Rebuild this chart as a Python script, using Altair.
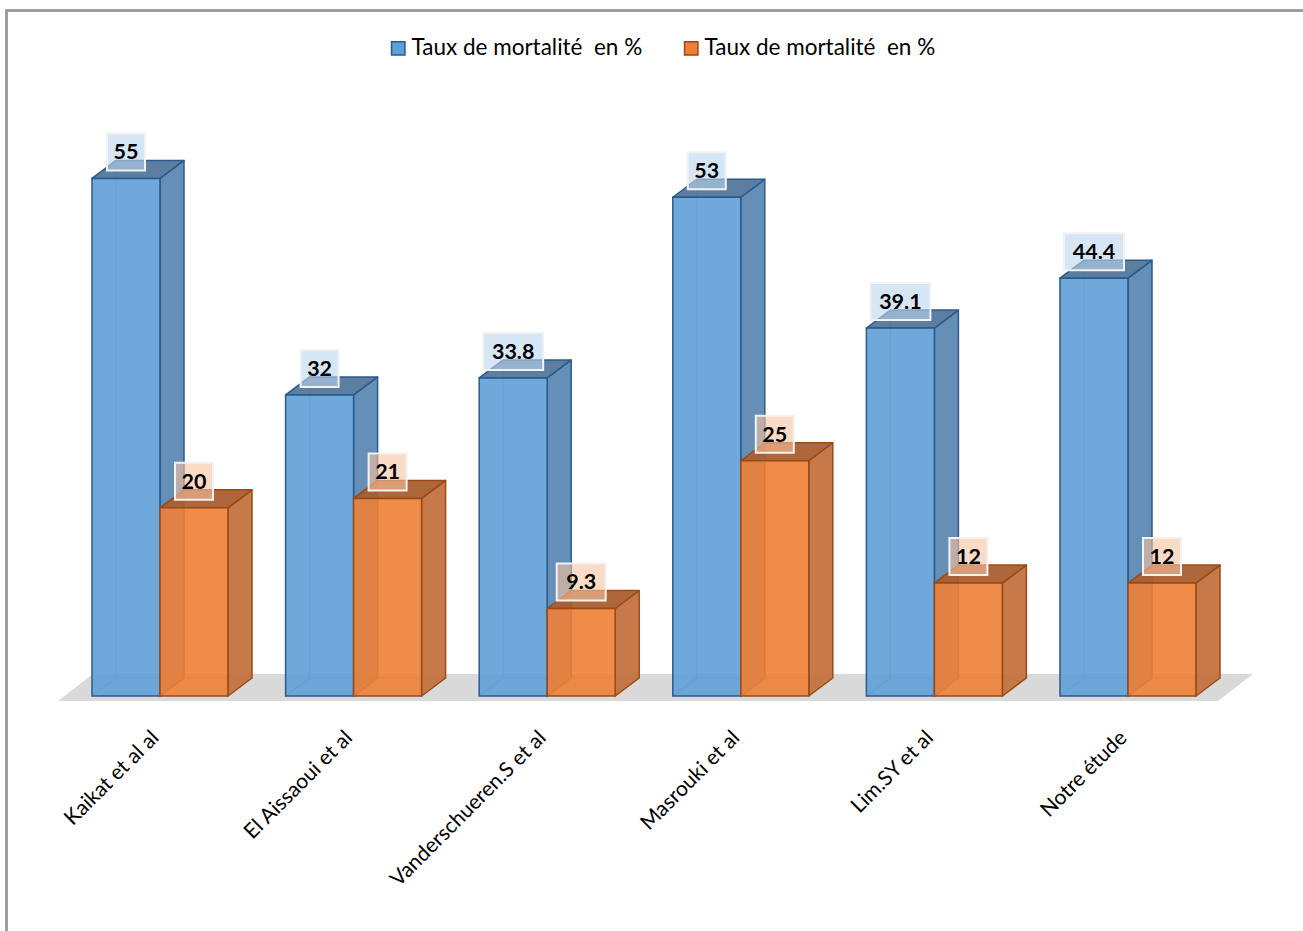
import altair as alt
import pandas as pd

# ---------------- data ----------------
categories = ["Kaikat et al al", "El Aissaoui et al", "Vanderschueren.S et al",
              "Masrouki et al", "Lim.SY et al", "Notre étude"]
serie_a = [55, 32, 33.8, 53, 39.1, 44.4]
serie_b = [20, 21, 9.3, 25, 12, 12]
labels_a = ["55", "32", "33.8", "53", "39.1", "44.4"]
labels_b = ["20", "21", "9.3", "25", "12", "12"]
series_ids = ["A", "B"]
legend_label = "Taux de mortalité\u00a0 en %"

# ---------------- geometry (axis units) ----------------
PX_X = 193.6          # pixels per category step
PX_Y = 9.41           # pixels per value unit
X0_PX = 92.0          # pixel of first bar left edge
Y0_PX = 696.0         # pixel of value 0
WIDTH, HEIGHT = 1303, 931
W = 68 / PX_X         # bar width
D = 24 / PX_X         # depth dx
E = 18 / PX_Y         # depth dy
XDOM = [-X0_PX / PX_X, (WIDTH - X0_PX) / PX_X]
YDOM = [(Y0_PX - HEIGHT) / PX_Y, Y0_PX / PX_Y]
xs = alt.Scale(domain=XDOM, nice=False, zero=False)
ys = alt.Scale(domain=YDOM, nice=False, zero=False)

front_col = {"A": "#5f9fd7", "B": "#ee7f36"}
side_col = {"A": "#5e89b3", "B": "#c4733f"}
top_col = {"A": "#52779c", "B": "#a95f30"}
edge_col = {"A": "#2c5a8c", "B": "#9a4a16"}
box_col = {"A": "#bdd5ee", "B": "#f7c3a0"}

fronts, sides, tops, edges, vlabels = [], [], [], [], []
for s_i, (sid, vals, labs) in enumerate(zip(series_ids, [serie_a, serie_b], [labels_a, labels_b])):
    for i, (v, lab) in enumerate(zip(vals, labs)):
        u0 = i + s_i * W
        u1 = u0 + W
        pid = f"{sid}{i}"
        fronts.append(dict(series=sid, x=u0, x2=u1, y=0, y2=v))
        sides += [dict(series=sid, pid=pid, x=u1, lo=0, hi=v),
                  dict(series=sid, pid=pid, x=u1 + D, lo=E, hi=v + E)]
        tops += [dict(series=sid, pid=pid, x=u0, lo=v, hi=v),
                 dict(series=sid, pid=pid, x=u0 + D, lo=v, hi=v + E),
                 dict(series=sid, pid=pid, x=u1, lo=v, hi=v + E),
                 dict(series=sid, pid=pid, x=u1 + D, lo=v + E, hi=v + E)]
        edges += [dict(series=sid, x=u0, y=0, x2=u0 + D, y2=E),
                  dict(series=sid, x=u0 + D, y=E, x2=u0 + D, y2=v + E),
                  dict(series=sid, x=u0 + D, y=E, x2=u1 + D, y2=E)]
        uc = (u0 + u1) / 2
        half = (11 * len(lab) + 16) / 2 / PX_X
        vlabels.append(dict(series=sid, label=lab, x=uc, y=v + 2.66,
                            bx=uc - half, bx2=uc + half, by=v + 0.85, by2=v + 4.78))

fronts = pd.DataFrame(fronts)
sides = pd.DataFrame(sides)
tops = pd.DataFrame(tops)
edges = pd.DataFrame(edges)
vlabels = pd.DataFrame(vlabels)

n = len(categories)
floor = pd.DataFrame([
    dict(x=-34 / PX_X, lo=-0.53, hi=-0.53),
    dict(x=1 / PX_X, lo=-0.53, hi=2.34),
    dict(x=n - 1 + 2 * W + 22 / PX_X, lo=-0.53, hi=2.34),
    dict(x=n - 1 + 2 * W + 57 / PX_X, lo=2.34, hi=2.34),
])
cats = pd.DataFrame(dict(cat=categories, x=[i + W - 12 / PX_X for i in range(n)], y=[-3.3] * n))

# ---------------- layers ----------------
floor_layer = alt.Chart(floor).mark_area(color="#d9d9d9").encode(
    x=alt.X("x:Q", scale=xs, axis=None),
    y=alt.Y("lo:Q", scale=ys, axis=None),
    y2="hi:Q",
)

border_left = alt.Chart(floor).mark_rule(color="#999999", strokeWidth=2).encode(
    x=alt.value(6.5), y=alt.value(10), y2=alt.value(HEIGHT))
border_top = alt.Chart(floor).mark_rule(color="#999999", strokeWidth=2).encode(
    y=alt.value(10.5), x=alt.value(5.5), x2=alt.value(WIDTH))

legend = alt.Legend(
    title=None, orient="none", legendX=387, legendY=37, direction="horizontal",
    symbolType="square", symbolSize=180, symbolStrokeWidth=1.5, symbolOpacity=1,
    labelExpr=f"'{legend_label}'", labelFont="Lato", labelFontSize=22.5, labelLimit=0,
    labelColor="#000000", labelOffset=2, columnPadding=37, padding=0,
)

layers = [floor_layer, border_left, border_top]
for sid in series_ids:
    e_df = edges[edges.series == sid]
    s_df = sides[sides.series == sid]
    t_df = tops[tops.series == sid]
    f_df = fronts[fronts.series == sid]
    layers.append(alt.Chart(e_df).mark_rule(color=edge_col[sid], strokeWidth=1.2, opacity=0.45).encode(
        x=alt.X("x:Q", scale=xs, axis=None), y=alt.Y("y:Q", scale=ys, axis=None), x2="x2:Q", y2="y2:Q"))
    layers.append(alt.Chart(s_df).mark_area(
        fill=side_col[sid], fillOpacity=0.95, stroke=edge_col[sid],
        strokeWidth=1.5, strokeJoin="round").encode(
        x=alt.X("x:Q", scale=xs, axis=None), y=alt.Y("lo:Q", scale=ys, axis=None), y2="hi:Q",
        detail="pid:N"))
    layers.append(alt.Chart(t_df).mark_area(
        fill=top_col[sid], fillOpacity=0.95, stroke=edge_col[sid],
        strokeWidth=1.5, strokeJoin="round").encode(
        x=alt.X("x:Q", scale=xs, axis=None), y=alt.Y("lo:Q", scale=ys, axis=None), y2="hi:Q",
        detail="pid:N"))
    layers.append(alt.Chart(f_df).mark_rect(fillOpacity=0.9, strokeWidth=1.5).encode(
        x=alt.X("x:Q", scale=xs, axis=None), x2="x2:Q",
        y=alt.Y("y:Q", scale=ys, axis=None), y2="y2:Q",
        fill=alt.Fill("series:N", scale=alt.Scale(domain=series_ids, range=[front_col["A"], front_col["B"]]), legend=legend),
        stroke=alt.Stroke("series:N", scale=alt.Scale(domain=series_ids, range=[edge_col["A"], edge_col["B"]]), legend=legend),
    ))

for sid in series_ids:
    l_df = vlabels[vlabels.series == sid]
    layers.append(alt.Chart(l_df).mark_rect(fill=box_col[sid], fillOpacity=0.6, stroke="#f2f2f2",
                                            strokeWidth=2).encode(
        x=alt.X("bx:Q", scale=xs, axis=None), x2="bx2:Q",
        y=alt.Y("by:Q", scale=ys, axis=None), y2="by2:Q"))
    layers.append(alt.Chart(l_df).mark_text(font="Lato", fontWeight="bold", fontSize=21.5, color="#000000",
                                            align="center", baseline="middle").encode(
        x=alt.X("x:Q", scale=xs, axis=None), y=alt.Y("y:Q", scale=ys, axis=None), text="label:N"))

layers.append(alt.Chart(cats).mark_text(font="Lato", fontSize=21, color="#000000", angle=315,
                                        align="right", baseline="top").encode(
    x=alt.X("x:Q", scale=xs, axis=None), y=alt.Y("y:Q", scale=ys, axis=None), text="cat:N"))

chart = alt.layer(*layers).properties(
    width=WIDTH, height=HEIGHT, padding=0, autosize=alt.AutoSizeParams(type="none"),
    background="#ffffff",
).configure_view(stroke=None)

chart.save("out.html", embed_options={"renderer": "svg", "actions": False})
